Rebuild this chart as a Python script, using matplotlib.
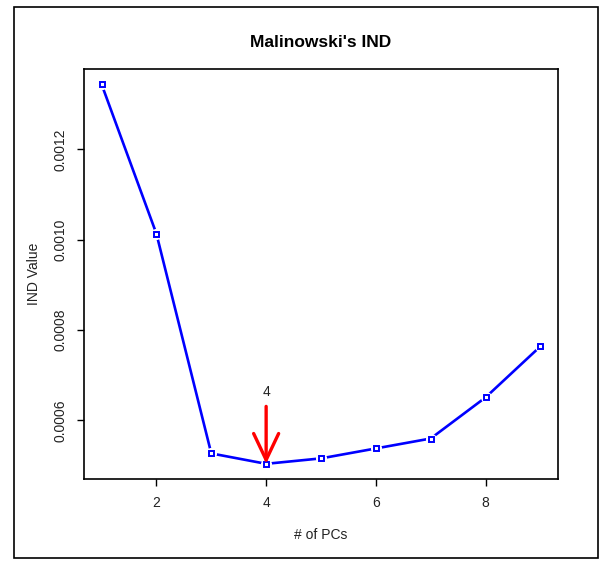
import numpy as np
import matplotlib
matplotlib.use('Agg')
from matplotlib import pyplot as plt
from matplotlib.patches import Rectangle

# number of principal components and Malinowski's IND value for each
n_pcs = [1, 2, 3, 4, 5, 6, 7, 8, 9]
ind_values = [0.001344, 0.001013, 0.000527, 0.000504, 0.000516,
              0.000538, 0.000560, 0.000651, 0.000764]
best_pc = 4
yticks = [0.0006, 0.0008, 0.0010, 0.0012]
xticks = [2, 4, 6, 8]

plt.rcParams['font.family'] = ['Liberation Sans', 'DejaVu Sans']

fig = plt.figure(figsize=(6.09, 5.64), dpi=100)
W, H = 609, 564
ax = fig.add_axes([84 / W, 1 - 479 / H, (558 - 84) / W, (479 - 69) / H])

# outer frame round the whole figure
fig.patches.append(Rectangle((14 / W, 1 - 558 / H), (598 - 14) / W, (558 - 7) / H,
                             transform=fig.transFigure, fill=False,
                             edgecolor='black', linewidth=1.2))

# R type="b": line with gaps at the points
ax.plot(n_pcs, ind_values, color='blue', lw=1.9, zorder=2)
ax.plot(n_pcs, ind_values, ls='none', marker='o', ms=8, mfc='white',
        mec='none', zorder=3)
ax.plot(n_pcs, ind_values, ls='none', marker='s', ms=3.6, mfc='white',
        mec='blue', mew=1.4, zorder=4)

# arrow pointing at the chosen number of PCs
best_val = ind_values[n_pcs.index(best_pc)]
ax.annotate('', xy=(best_pc, best_val), xytext=(best_pc, 0.000631),
            arrowprops=dict(arrowstyle='->, head_length=0.95, head_width=0.45',
                            color='red', lw=2.4, mutation_scale=20,
                            shrinkA=0, shrinkB=0), zorder=5)
ax.text(best_pc, 0.000662, str(best_pc), ha='center', va='center',
        fontsize=10, color='#222222')

span = max(ind_values) - min(ind_values)
ax.set_ylim(min(ind_values) - 0.04 * span, max(ind_values) + 0.04 * span)
ax.set_xlim(min(n_pcs) - 0.04 * 8, max(n_pcs) + 0.04 * 8)

ax.set_xticks(xticks)
ax.set_xticklabels([str(t) for t in xticks])
ax.set_yticks(yticks)
ax.set_yticklabels(['%.4f' % t for t in yticks], rotation=90, va='center')
ax.tick_params(direction='out', length=5, width=1, labelsize=10,
               labelcolor='#222222', pad=7)

for s in ax.spines.values():
    s.set_linewidth(1.2)

ax.set_xlabel('# of PCs', fontsize=10, color='#222222', labelpad=13)
ax.set_ylabel('IND Value', fontsize=10, color='#222222', labelpad=9)
ax.set_title("Malinowski's IND", fontsize=12.5, fontweight='bold', pad=16)

fig.savefig('out.png', dpi=100)
